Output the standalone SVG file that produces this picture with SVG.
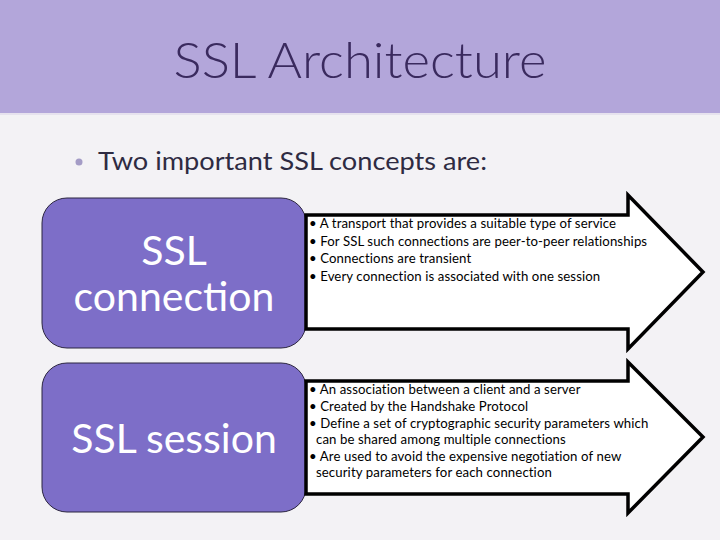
<svg xmlns="http://www.w3.org/2000/svg" width="720" height="540" viewBox="0 0 720 540">
<defs>
<style>
.box{fill:#7d6ec8;stroke:#2b2540;stroke-width:1}
.boxtxt{font-family:Lato,"Open Sans",sans-serif;font-size:41px;fill:#ffffff;text-anchor:middle}
.arrow{fill:#ffffff;stroke:#000000;stroke-width:3.5;stroke-linejoin:miter}
.pt{font-family:Lato,"Liberation Sans",sans-serif;font-size:13.2px;letter-spacing:0.1px;fill:#000000}
</style>
</defs>
<rect x="0" y="0" width="720" height="540" fill="#f3f2f5"/>
<rect x="0" y="0" width="720" height="113" fill="#b3a6da"/>
<rect x="0" y="113" width="720" height="2" fill="#e6e2ee"/>
<text x="360" y="78" text-anchor="middle" font-family="Lato,'Open Sans',sans-serif" font-weight="300" font-size="50" fill="#3a2a5e" textLength="373" lengthAdjust="spacingAndGlyphs">SSL Architecture</text>
<circle cx="79" cy="162" r="3.5" fill="#a49cc6"/>
<text x="98" y="170" font-family="Lato,'Open Sans',sans-serif" font-size="25" fill="#2e2b42" textLength="389" lengthAdjust="spacingAndGlyphs">Two important SSL concepts are:</text>

<g id="node-connection">
<rect class="box" x="42" y="198" width="264" height="150" rx="25" ry="25"/>
<text class="boxtxt" x="174" y="265">SSL</text>
<text class="boxtxt" x="174" y="311">connection</text>
</g>
<g id="node-connection-desc">
<path class="arrow" d="M306,215 L628,215 L628,195 L703,272 L628,349 L628,329 L306,329 Z"/>
<text class="pt" x="309" y="228">• A transport that provides a suitable type of service</text>
<text class="pt" x="309" y="246">• For SSL such connections are peer-to-peer relationships</text>
<text class="pt" x="309" y="263">• Connections are transient</text>
<text class="pt" x="309" y="281">• Every connection is associated with one session</text>
</g>

<g id="node-session">
<rect class="box" x="42" y="363" width="264" height="149" rx="25" ry="25"/>
<text class="boxtxt" x="174" y="453">SSL session</text>
</g>
<g id="node-session-desc">
<path class="arrow" d="M306,381 L628,381 L628,362 L703,437 L628,513 L628,494 L306,494 Z"/>
<text class="pt" x="309" y="394">• An association between a client and a server</text>
<text class="pt" x="309" y="411">• Created by the Handshake Protocol</text>
<text class="pt" x="309" y="428">• Define a set of cryptographic security parameters which</text>
<text class="pt" x="316" y="444">can be shared among multiple connections</text>
<text class="pt" x="309" y="461">• Are used to avoid the expensive negotiation of new</text>
<text class="pt" x="316" y="477">security parameters for each connection</text>
</g>
<g id="connectors"></g>
</svg>
